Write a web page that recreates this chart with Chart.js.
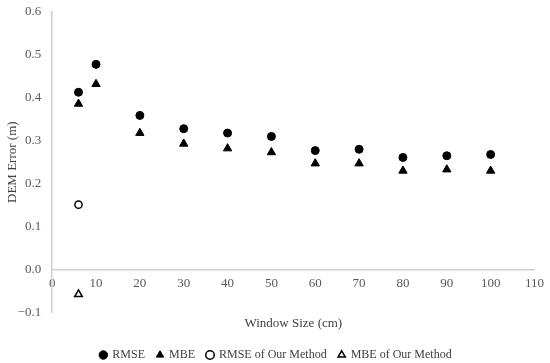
<!DOCTYPE html>
<html>
<head>
<meta charset="utf-8">
<script src="https://cdn.jsdelivr.net/npm/chart.js@4"></script>
<style>
  html, body { margin: 0; padding: 0; background: #fff; }
  #wrap { width: 550px; height: 363px; }
</style>
</head>
<body>
<div id="wrap"><canvas id="errChart"></canvas></div>
<script>
// window sizes in cm and DEM errors in m
const windowSizes = [6, 10, 20, 30, 40, 50, 60, 70, 80, 90, 100];
const rmse = [0.413, 0.478, 0.359, 0.328, 0.318, 0.310, 0.277, 0.280, 0.261, 0.265, 0.268];
const mbe = [0.386, 0.432, 0.318, 0.293, 0.282, 0.273, 0.247, 0.247, 0.230, 0.233, 0.230];
const ourWindow = [6];
const ourRmse = [0.151];
const ourMbe = [-0.058];

const toPoints = (xs, ys) => xs.map((x, i) => ({ x: x, y: ys[i] }));
const textColor = "#595959";
const axisColor = "#d0d0d0";
const font = { family: "'Liberation Serif', 'Times New Roman', serif", size: 13 };
const legendFont = { family: font.family, size: 12 };

new Chart(document.getElementById("errChart"), {
  type: "scatter",
  data: {
    datasets: [
      { label: "RMSE", data: toPoints(windowSizes, rmse), pointStyle: "circle",
        pointRadius: 4, backgroundColor: "#000", borderColor: "#000", borderWidth: 1 },
      { label: "MBE", data: toPoints(windowSizes, mbe), pointStyle: "triangle",
        pointRadius: 4.8, backgroundColor: "#000", borderColor: "#000", borderWidth: 1 },
      { label: "RMSE of Our Method", data: toPoints(ourWindow, ourRmse), pointStyle: "circle",
        pointRadius: 3.6, backgroundColor: "#fff", borderColor: "#000", borderWidth: 1.5 },
      { label: "MBE of Our Method", data: toPoints(ourWindow, ourMbe), pointStyle: "triangle",
        pointRadius: 4.4, backgroundColor: "#fff", borderColor: "#000", borderWidth: 1.5 }
    ]
  },
  options: {
    responsive: true,
    maintainAspectRatio: false,
    animation: false,
    layout: { padding: { top: 0, right: 12, left: 14, bottom: -8 } },
    plugins: {
      tooltip: { enabled: false },
      legend: {
        position: "bottom",
        labels: {
          usePointStyle: true, boxWidth: 6, boxHeight: 6, padding: 12,
          color: "#404040", font: legendFont
        }
      }
    },
    scales: {
      x: {
        type: "linear",
        position: { y: 0 },
        min: 0, max: 110,
        ticks: { stepSize: 10, color: textColor, font: font, padding: 6, maxRotation: 0 },
        grid: { display: true, drawOnChartArea: false, drawTicks: false },
        border: { color: axisColor, width: 1.5 }
      },
      // holds only the axis title below the plot
      xTitle: {
        type: "linear",
        position: "bottom",
        min: 0, max: 110,
        ticks: { display: false },
        grid: { display: false },
        border: { display: false },
        title: { display: true, text: "Window Size (cm)", color: "#404040", font: font,
                 padding: { top: -5, bottom: 6 } }
      },
      y: {
        min: -0.1, max: 0.6,
        ticks: {
          stepSize: 0.1, color: textColor, font: font, padding: 11,
          callback: v => (Math.abs(v) < 1e-9 ? 0 : v).toFixed(1).replace("-", "\u2212")
        },
        grid: { display: true, drawOnChartArea: false, drawTicks: false },
        border: { color: axisColor, width: 1.5 },
        title: { display: true, text: "DEM Error (m)", color: "#404040", font: font,
                 padding: { top: -9, bottom: -14 } },
        afterFit: scale => { scale.paddingTop = 12; }
      }
    }
  }
});
</script>
</body>
</html>
